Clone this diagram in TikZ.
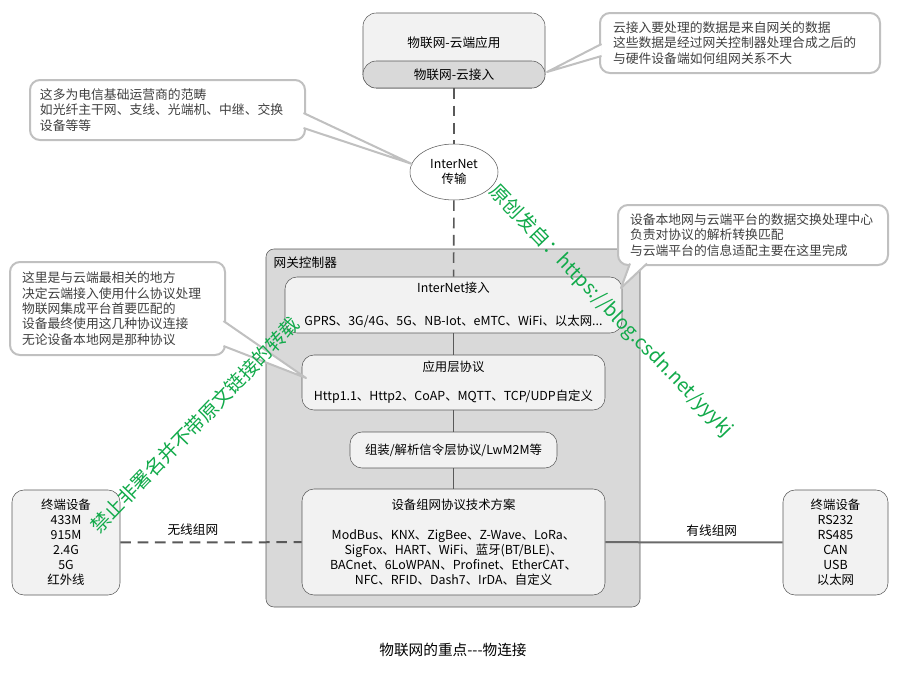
\documentclass[tikz,border=0pt]{standalone}
\usepackage{fontspec}
\setmainfont{Noto Sans CJK SC}
\usetikzlibrary{positioning,shapes.geometric,calc}
\definecolor{gwfill}{HTML}{D9D9D9}
\definecolor{boxfill}{HTML}{F2F2F2}
\definecolor{edge}{HTML}{595959}
\definecolor{notegray}{HTML}{C0C0C0}
\definecolor{notetext}{HTML}{404040}
\definecolor{wmgreen}{HTML}{11AA4A}
\tikzset{box/.style={draw=edge,fill=boxfill,rounded corners=9pt,align=center,inner sep=0pt,font=\fontsize{9.3}{11.25}\selectfont},
  note/.style={draw=notegray,fill=white,line width=1.5pt,rounded corners=7.5pt,align=left,text=notetext,inner ysep=0pt,font=\fontsize{9.6}{11.5}\selectfont},
  tail/.style={draw=notegray,line width=1.5pt,line join=round},
  link/.style={draw=edge,line width=0.8pt},
  dashlink/.style={draw=edge,line width=1.5pt,dash pattern=on 8pt off 5pt},
  lab/.style={font=\fontsize{9.5}{11}\selectfont,inner sep=1pt},
  wm/.style={text=wmgreen,font=\fontsize{14.5}{16}\selectfont,inner sep=0pt}}
\begin{document}
\begin{tikzpicture}[x=0.75pt,y=-0.75pt]
\fill[white] (0,0) rectangle (900,672);
\useasboundingbox (0,0) rectangle (900,672);
% cloud side
\node[box,fill=boxfill,rounded corners=10pt,minimum width=136.5pt,minimum height=56.25pt] (cloud) at (454,50.5) {};
\node[lab] (cloudapp) at (454,43) {物联网-云端应用};
\node[box,fill=gwfill,rounded corners=10pt,minimum width=136.5pt,minimum height=20.25pt,font=\fontsize{9.5}{11}\selectfont] (cloudin) at (454,74.5) {物联网-云接入};
\node[ellipse,draw=edge,fill=white,minimum width=66pt,minimum height=42pt,inner sep=0pt,align=center,font=\fontsize{9.3}{11}\selectfont] (net) at (454,172) {InterNet\\传输};
% gateway
\node[draw=edge,fill=gwfill,rounded corners=6pt,minimum width=280.5pt,minimum height=268.5pt] (gw) at (453,428) {};
\node[lab,anchor=west] (gwlab) at (272,263) {网关控制器};
\node[box,minimum width=252.75pt,minimum height=42pt] (inet) at (453.5,305) {InterNet接入\\[13.5pt]GPRS、3G/4G、5G、NB-Iot、eMTC、WiFi、以太网...};
\node[box,minimum width=227.25pt,minimum height=41.25pt] (app) at (453.5,382.5) {应用层协议\\[10.5pt]Http1.1、Http2、CoAP、MQTT、TCP/UDP自定义};
\node[box,minimum width=155.25pt,minimum height=27pt] (sig) at (453.5,450) {组装/解析信令层协议/LwM2M等};
\node[box,minimum width=227.25pt,minimum height=79.5pt] (dev) at (453.5,542) {设备组网协议技术方案\\[11.25pt]ModBus、KNX、ZigBee、Z-Wave、LoRa、\\SigFox、HART、WiFi、蓝牙(BT/BLE)、\\BACnet、6LoWPAN、Profinet、EtherCAT、\\NFC、RFID、Dash7、IrDA、自定义};
% terminals
\node[box,minimum width=81pt,minimum height=78.75pt] (wless) at (66,542.5) {终端设备\\433M\\915M\\2.4G\\5G\\红外线};
\node[box,minimum width=78.75pt,minimum height=78.75pt] (wired) at (835.5,542.5) {终端设备\\RS232\\RS485\\CAN\\USB\\以太网};
\draw[dashlink,line width=1.2pt] (cloudin) -- (net);
\draw[dashlink,line width=1.2pt] (net) -- (inet);
\draw[link] (inet) -- (app);
\draw[link] (app) -- (sig);
\draw[link] (sig) -- (dev);
\draw[dashlink] (wless) -- node[lab,above=3pt,pos=0.4] (wlab) {无线组网} (dev);
\draw[link,line width=1.5pt,draw=edge!90] (dev) -- node[lab,above=3pt,pos=0.6] (wdlab) {有线组网} (wired);
% notes
\node[note,text width=190.5pt,inner xsep=9.75pt,minimum height=45pt] (n1) at (740,43) {云接入要处理的数据是来自网关的数据\\这些数据是经过网关控制器处理合成之后的\\与硬件设备端如何组网关系不大};
\coordinate (tip1) at (547,72);
\fill[white] ($(n1.west)+(2.5,1)$) -- (tip1) -- ($(n1.west)+(2.5,13)$) -- cycle;
\draw[tail] ($(n1.west)+(2.5,1)$) -- (tip1) -- ($(n1.west)+(2.5,13)$);
\node[note,text width=191.25pt,inner xsep=7.5pt,minimum height=45pt] (n2) at (167.5,110) {这多为电信基础运营商的范畴\\如光纤主干网、支线、光端机、中继、交换\\设备等等};
\coordinate (tip2) at (412,164);
\fill[white] ($(n2.east)+(-2.5,3)$) -- (tip2) -- ($(n2.east)+(-2.5,18)$) -- cycle;
\draw[tail] ($(n2.east)+(-2.5,3)$) -- (tip2) -- ($(n2.east)+(-2.5,18)$);
\node[note,text width=184.5pt,inner xsep=9pt,minimum height=45pt] (n3) at (753,235) {设备本地网与云端平台的数据交换处理中心\\负责对协议的解析转换匹配\\与云端平台的信息适配主要在这里完成};
\coordinate (tip3) at (621,288);
\fill[white] ($(n3.south west)+(13,-2.5)$) -- (tip3) -- ($(n3.south west)+(30,-2.5)$) -- cycle;
\draw[tail] ($(n3.south west)+(13,-2.5)$) -- (tip3) -- ($(n3.south west)+(30,-2.5)$);
\node[note,text width=143.25pt,inner xsep=9pt,minimum height=69.75pt] (n4) at (117.5,308.5) {这里是与云端最相关的地方\\决定云端接入使用什么协议处理\\物联网集成平台首要匹配的\\设备最终使用这几种协议连接\\无论设备本地网是那种协议};
\coordinate (tip4) at (306,378);
\fill[white] ($(n4.south east)+(-2.5,-35)$) -- (tip4) -- ($(n4.south east)+(-2.5,-10)$) -- cycle;
\draw[tail] ($(n4.south east)+(-2.5,-35)$) -- (tip4) -- ($(n4.south east)+(-2.5,-10)$);
% caption and marks
\node[font=\fontsize{11}{13}\selectfont] (cap) at (453,650) {物联网的重点-{}-{}-物连接};
\node[wm,rotate=-46] (wm1) at (611,311) {原创发自：https://blog.csdn.net/yyykj};
\node[wm,rotate=46] (wm2) at (195,425) {禁止非署名并不带原文链接的转载};
\end{tikzpicture}
\end{document}
